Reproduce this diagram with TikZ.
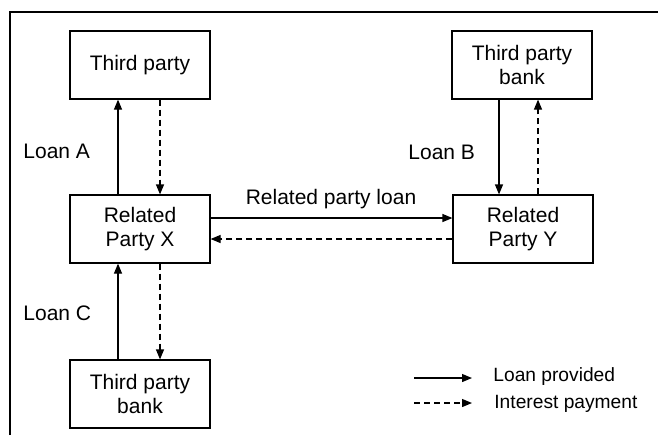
\documentclass[tikz,border=0pt]{standalone}
\usepackage{fontspec}
\setmainfont{Liberation Sans}
\usetikzlibrary{arrows.meta}
\begin{document}
\begin{tikzpicture}[x=0.5pt,y=-0.5pt,
  every node/.style={font=\fontsize{10.5}{11.8}\selectfont},
  box/.style={draw, line width=0.6pt, minimum width=70pt, minimum height=34pt, align=center, inner sep=0pt},
  lbl/.style={inner sep=0pt, anchor=west},
  leg/.style={lbl, font=\fontsize{9.6}{11}\selectfont},
  loan/.style={line width=0.6pt, -{Triangle[length=5pt,width=4pt]}},
  intr/.style={line width=0.6pt, dash pattern=on 3pt off 2pt, -{Triangle[length=5pt,width=4pt]}}]
\useasboundingbox (0,0) rectangle (658,435);
\draw[line width=0.8pt] (10,435) -- (10,12) -- (658,12);
\node[box] (tp) at (140,65) {Third party};
\node[box] (tpb) at (522,65) {Third party\\bank};
\node[box] (rpx) at (140,229) {Related\\Party X};
\node[box] (rpy) at (523,229) {Related\\Party Y};
\node[box] (bb) at (140,394) {Third party\\bank};
% Loan A
\draw[loan] (rpx.north -| 118,0) -- (tp.south -| 118,0);
\draw[intr] (tp.south -| 160,0) -- (rpx.north -| 160,0);
% Loan B
\draw[loan] (tpb.south -| 499,0) -- (rpy.north -| 499,0);
\draw[intr] (rpy.north -| 538,0) -- (tpb.south -| 538,0);
% related party loan
\draw[loan] (rpx.east |- 0,218) -- (rpy.west |- 0,218);
\draw[intr] (rpy.west |- 0,239) -- (rpx.east |- 0,239);
% Loan C
\draw[loan] (bb.north -| 118,0) -- (rpx.south -| 118,0);
\draw[intr] (rpx.south -| 160,0) -- (bb.north -| 160,0);
% labels
\node[lbl] (la) at (23,151) {Loan A};
\node[lbl] (lb) at (408,152) {Loan B};
\node[lbl] (lc) at (23,313) {Loan C};
\node[inner sep=0pt] (lr) at (331,199) {Related party loan};
% legend
\coordinate (s1) at (414,378);
\coordinate (e1) at (472,378);
\coordinate (s2) at (414,403);
\coordinate (e2) at (472,403);
\draw[loan] (s1) -- (e1);
\draw[intr] (s2) -- (e2);
\node[leg] (lp) at (493,377) {Loan provided};
\node[leg] (ip) at (494,404) {Interest payment};
\end{tikzpicture}
\end{document}
